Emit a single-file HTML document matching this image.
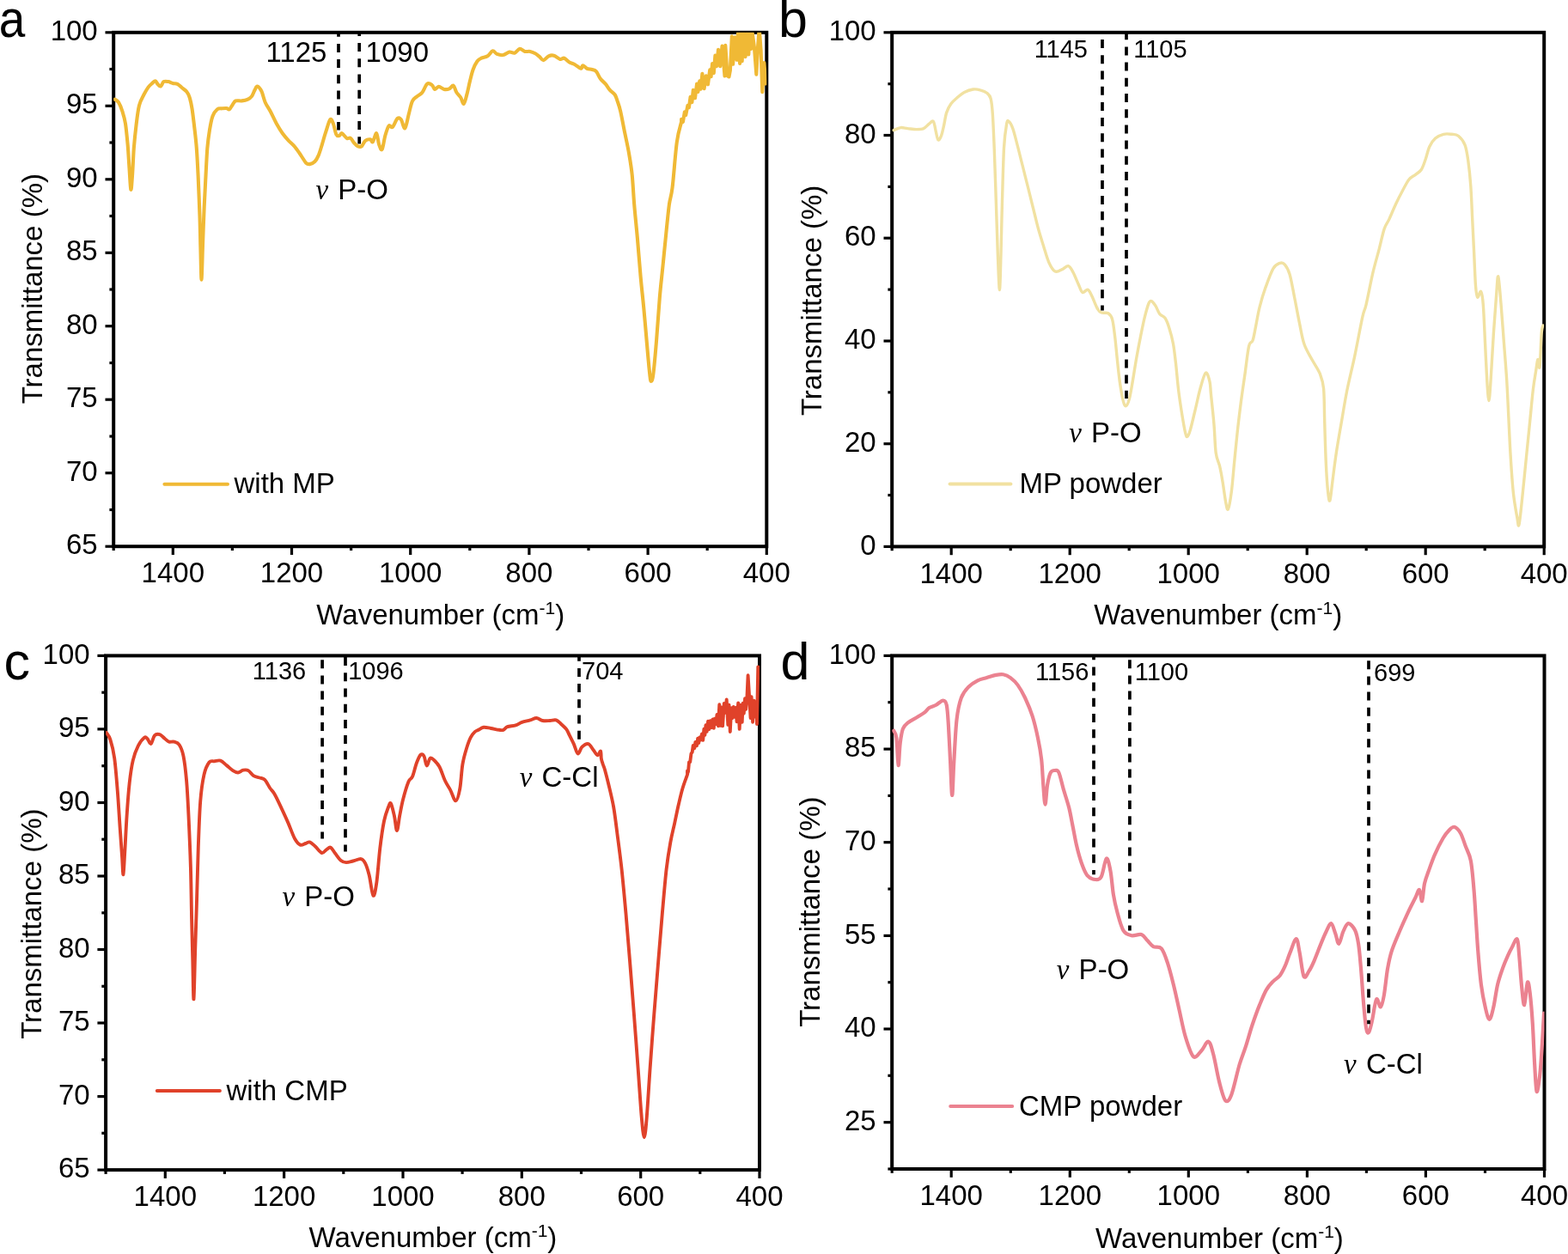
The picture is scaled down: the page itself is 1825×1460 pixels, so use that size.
<!DOCTYPE html>
<html><head><meta charset="utf-8"><title>FTIR spectra</title>
<style>html,body{margin:0;padding:0;background:#fff;width:1825px;height:1460px;overflow:hidden}svg{display:block}</style>
</head><body>
<svg width="1825" height="1460" viewBox="0 0 1825 1460" font-family="Liberation Sans, Arial, sans-serif" font-size="33" fill="#000">
<defs><clipPath id="ca"><rect x="132.2" y="37.8" width="760.1" height="598.4"/></clipPath><clipPath id="cb"><rect x="1038.2" y="37.8" width="759" height="598.6"/></clipPath><clipPath id="cc"><rect x="123.1" y="763.4" width="760.9" height="598.7"/></clipPath><clipPath id="cd"><rect x="1038.2" y="763.4" width="759.3" height="597.6"/></clipPath></defs>
<rect width="1825" height="1460" fill="#fff"/>
<rect x="132.2" y="37.8" width="760.1" height="598.4" fill="none" stroke="#000" stroke-width="4.0"/>
<line x1="122.5" y1="636.2" x2="132.2" y2="636.2" stroke="#000" stroke-width="3.2"/>
<text x="113.7" y="645.3" text-anchor="end">65</text>
<line x1="127.4" y1="593.5" x2="132.2" y2="593.5" stroke="#000" stroke-width="3.2"/>
<line x1="122.5" y1="550.7" x2="132.2" y2="550.7" stroke="#000" stroke-width="3.2"/>
<text x="113.7" y="559.8" text-anchor="end">70</text>
<line x1="127.4" y1="508" x2="132.2" y2="508" stroke="#000" stroke-width="3.2"/>
<line x1="122.5" y1="465.2" x2="132.2" y2="465.2" stroke="#000" stroke-width="3.2"/>
<text x="113.7" y="474.3" text-anchor="end">75</text>
<line x1="127.4" y1="422.5" x2="132.2" y2="422.5" stroke="#000" stroke-width="3.2"/>
<line x1="122.5" y1="379.7" x2="132.2" y2="379.7" stroke="#000" stroke-width="3.2"/>
<text x="113.7" y="388.8" text-anchor="end">80</text>
<line x1="127.4" y1="337" x2="132.2" y2="337" stroke="#000" stroke-width="3.2"/>
<line x1="122.5" y1="294.3" x2="132.2" y2="294.3" stroke="#000" stroke-width="3.2"/>
<text x="113.7" y="303.4" text-anchor="end">85</text>
<line x1="127.4" y1="251.5" x2="132.2" y2="251.5" stroke="#000" stroke-width="3.2"/>
<line x1="122.5" y1="208.8" x2="132.2" y2="208.8" stroke="#000" stroke-width="3.2"/>
<text x="113.7" y="217.9" text-anchor="end">90</text>
<line x1="127.4" y1="166" x2="132.2" y2="166" stroke="#000" stroke-width="3.2"/>
<line x1="122.5" y1="123.3" x2="132.2" y2="123.3" stroke="#000" stroke-width="3.2"/>
<text x="113.7" y="132.4" text-anchor="end">95</text>
<line x1="127.4" y1="80.5" x2="132.2" y2="80.5" stroke="#000" stroke-width="3.2"/>
<line x1="122.5" y1="37.8" x2="132.2" y2="37.8" stroke="#000" stroke-width="3.2"/>
<text x="113.7" y="46.9" text-anchor="end">100</text>
<line x1="132.2" y1="636.2" x2="132.2" y2="641" stroke="#000" stroke-width="3.2"/>
<line x1="201.3" y1="636.2" x2="201.3" y2="646" stroke="#000" stroke-width="3.2"/>
<text x="201.3" y="678.4" text-anchor="middle">1400</text>
<line x1="270.4" y1="636.2" x2="270.4" y2="641" stroke="#000" stroke-width="3.2"/>
<line x1="339.5" y1="636.2" x2="339.5" y2="646" stroke="#000" stroke-width="3.2"/>
<text x="339.5" y="678.4" text-anchor="middle">1200</text>
<line x1="408.6" y1="636.2" x2="408.6" y2="641" stroke="#000" stroke-width="3.2"/>
<line x1="477.7" y1="636.2" x2="477.7" y2="646" stroke="#000" stroke-width="3.2"/>
<text x="477.7" y="678.4" text-anchor="middle">1000</text>
<line x1="546.8" y1="636.2" x2="546.8" y2="641" stroke="#000" stroke-width="3.2"/>
<line x1="615.9" y1="636.2" x2="615.9" y2="646" stroke="#000" stroke-width="3.2"/>
<text x="615.9" y="678.4" text-anchor="middle">800</text>
<line x1="685" y1="636.2" x2="685" y2="641" stroke="#000" stroke-width="3.2"/>
<line x1="754.1" y1="636.2" x2="754.1" y2="646" stroke="#000" stroke-width="3.2"/>
<text x="754.1" y="678.4" text-anchor="middle">600</text>
<line x1="823.2" y1="636.2" x2="823.2" y2="641" stroke="#000" stroke-width="3.2"/>
<line x1="892.3" y1="636.2" x2="892.3" y2="646" stroke="#000" stroke-width="3.2"/>
<text x="892.3" y="678.4" text-anchor="middle">400</text>
<rect x="1038.2" y="37.8" width="759" height="598.6" fill="none" stroke="#000" stroke-width="4.0"/>
<line x1="1028.5" y1="636.4" x2="1038.2" y2="636.4" stroke="#000" stroke-width="3.2"/>
<text x="1019.7" y="645.5" text-anchor="end">0</text>
<line x1="1033.4" y1="576.5" x2="1038.2" y2="576.5" stroke="#000" stroke-width="3.2"/>
<line x1="1028.5" y1="516.7" x2="1038.2" y2="516.7" stroke="#000" stroke-width="3.2"/>
<text x="1019.7" y="525.8" text-anchor="end">20</text>
<line x1="1033.4" y1="456.8" x2="1038.2" y2="456.8" stroke="#000" stroke-width="3.2"/>
<line x1="1028.5" y1="397" x2="1038.2" y2="397" stroke="#000" stroke-width="3.2"/>
<text x="1019.7" y="406.1" text-anchor="end">40</text>
<line x1="1033.4" y1="337.1" x2="1038.2" y2="337.1" stroke="#000" stroke-width="3.2"/>
<line x1="1028.5" y1="277.2" x2="1038.2" y2="277.2" stroke="#000" stroke-width="3.2"/>
<text x="1019.7" y="286.3" text-anchor="end">60</text>
<line x1="1033.4" y1="217.4" x2="1038.2" y2="217.4" stroke="#000" stroke-width="3.2"/>
<line x1="1028.5" y1="157.5" x2="1038.2" y2="157.5" stroke="#000" stroke-width="3.2"/>
<text x="1019.7" y="166.6" text-anchor="end">80</text>
<line x1="1033.4" y1="97.7" x2="1038.2" y2="97.7" stroke="#000" stroke-width="3.2"/>
<line x1="1028.5" y1="37.8" x2="1038.2" y2="37.8" stroke="#000" stroke-width="3.2"/>
<text x="1019.7" y="46.9" text-anchor="end">100</text>
<line x1="1038.2" y1="636.4" x2="1038.2" y2="641.2" stroke="#000" stroke-width="3.2"/>
<line x1="1107.2" y1="636.4" x2="1107.2" y2="646.2" stroke="#000" stroke-width="3.2"/>
<text x="1107.2" y="678.6" text-anchor="middle">1400</text>
<line x1="1176.2" y1="636.4" x2="1176.2" y2="641.2" stroke="#000" stroke-width="3.2"/>
<line x1="1245.2" y1="636.4" x2="1245.2" y2="646.2" stroke="#000" stroke-width="3.2"/>
<text x="1245.2" y="678.6" text-anchor="middle">1200</text>
<line x1="1314.2" y1="636.4" x2="1314.2" y2="641.2" stroke="#000" stroke-width="3.2"/>
<line x1="1383.2" y1="636.4" x2="1383.2" y2="646.2" stroke="#000" stroke-width="3.2"/>
<text x="1383.2" y="678.6" text-anchor="middle">1000</text>
<line x1="1452.2" y1="636.4" x2="1452.2" y2="641.2" stroke="#000" stroke-width="3.2"/>
<line x1="1521.2" y1="636.4" x2="1521.2" y2="646.2" stroke="#000" stroke-width="3.2"/>
<text x="1521.2" y="678.6" text-anchor="middle">800</text>
<line x1="1590.2" y1="636.4" x2="1590.2" y2="641.2" stroke="#000" stroke-width="3.2"/>
<line x1="1659.2" y1="636.4" x2="1659.2" y2="646.2" stroke="#000" stroke-width="3.2"/>
<text x="1659.2" y="678.6" text-anchor="middle">600</text>
<line x1="1728.2" y1="636.4" x2="1728.2" y2="641.2" stroke="#000" stroke-width="3.2"/>
<line x1="1797.2" y1="636.4" x2="1797.2" y2="646.2" stroke="#000" stroke-width="3.2"/>
<text x="1797.2" y="678.6" text-anchor="middle">400</text>
<rect x="123.1" y="763.4" width="760.9" height="598.7" fill="none" stroke="#000" stroke-width="4.0"/>
<line x1="113.4" y1="1362.1" x2="123.1" y2="1362.1" stroke="#000" stroke-width="3.2"/>
<text x="104.6" y="1371.2" text-anchor="end">65</text>
<line x1="118.3" y1="1319.3" x2="123.1" y2="1319.3" stroke="#000" stroke-width="3.2"/>
<line x1="113.4" y1="1276.6" x2="123.1" y2="1276.6" stroke="#000" stroke-width="3.2"/>
<text x="104.6" y="1285.7" text-anchor="end">70</text>
<line x1="118.3" y1="1233.8" x2="123.1" y2="1233.8" stroke="#000" stroke-width="3.2"/>
<line x1="113.4" y1="1191" x2="123.1" y2="1191" stroke="#000" stroke-width="3.2"/>
<text x="104.6" y="1200.1" text-anchor="end">75</text>
<line x1="118.3" y1="1148.3" x2="123.1" y2="1148.3" stroke="#000" stroke-width="3.2"/>
<line x1="113.4" y1="1105.5" x2="123.1" y2="1105.5" stroke="#000" stroke-width="3.2"/>
<text x="104.6" y="1114.6" text-anchor="end">80</text>
<line x1="118.3" y1="1062.8" x2="123.1" y2="1062.8" stroke="#000" stroke-width="3.2"/>
<line x1="113.4" y1="1020" x2="123.1" y2="1020" stroke="#000" stroke-width="3.2"/>
<text x="104.6" y="1029.1" text-anchor="end">85</text>
<line x1="118.3" y1="977.2" x2="123.1" y2="977.2" stroke="#000" stroke-width="3.2"/>
<line x1="113.4" y1="934.5" x2="123.1" y2="934.5" stroke="#000" stroke-width="3.2"/>
<text x="104.6" y="943.6" text-anchor="end">90</text>
<line x1="118.3" y1="891.7" x2="123.1" y2="891.7" stroke="#000" stroke-width="3.2"/>
<line x1="113.4" y1="848.9" x2="123.1" y2="848.9" stroke="#000" stroke-width="3.2"/>
<text x="104.6" y="858" text-anchor="end">95</text>
<line x1="118.3" y1="806.2" x2="123.1" y2="806.2" stroke="#000" stroke-width="3.2"/>
<line x1="113.4" y1="763.4" x2="123.1" y2="763.4" stroke="#000" stroke-width="3.2"/>
<text x="104.6" y="772.5" text-anchor="end">100</text>
<line x1="123.1" y1="1362.1" x2="123.1" y2="1366.9" stroke="#000" stroke-width="3.2"/>
<line x1="192.3" y1="1362.1" x2="192.3" y2="1371.9" stroke="#000" stroke-width="3.2"/>
<text x="192.3" y="1404.3" text-anchor="middle">1400</text>
<line x1="261.4" y1="1362.1" x2="261.4" y2="1366.9" stroke="#000" stroke-width="3.2"/>
<line x1="330.6" y1="1362.1" x2="330.6" y2="1371.9" stroke="#000" stroke-width="3.2"/>
<text x="330.6" y="1404.3" text-anchor="middle">1200</text>
<line x1="399.8" y1="1362.1" x2="399.8" y2="1366.9" stroke="#000" stroke-width="3.2"/>
<line x1="469" y1="1362.1" x2="469" y2="1371.9" stroke="#000" stroke-width="3.2"/>
<text x="469" y="1404.3" text-anchor="middle">1000</text>
<line x1="538.1" y1="1362.1" x2="538.1" y2="1366.9" stroke="#000" stroke-width="3.2"/>
<line x1="607.3" y1="1362.1" x2="607.3" y2="1371.9" stroke="#000" stroke-width="3.2"/>
<text x="607.3" y="1404.3" text-anchor="middle">800</text>
<line x1="676.5" y1="1362.1" x2="676.5" y2="1366.9" stroke="#000" stroke-width="3.2"/>
<line x1="745.7" y1="1362.1" x2="745.7" y2="1371.9" stroke="#000" stroke-width="3.2"/>
<text x="745.7" y="1404.3" text-anchor="middle">600</text>
<line x1="814.8" y1="1362.1" x2="814.8" y2="1366.9" stroke="#000" stroke-width="3.2"/>
<line x1="884" y1="1362.1" x2="884" y2="1371.9" stroke="#000" stroke-width="3.2"/>
<text x="884" y="1404.3" text-anchor="middle">400</text>
<rect x="1038.2" y="763.4" width="759.3" height="597.6" fill="none" stroke="#000" stroke-width="4.0"/>
<line x1="1033.4" y1="1361" x2="1038.2" y2="1361" stroke="#000" stroke-width="3.2"/>
<line x1="1028.5" y1="1306.7" x2="1038.2" y2="1306.7" stroke="#000" stroke-width="3.2"/>
<text x="1019.7" y="1315.8" text-anchor="end">25</text>
<line x1="1033.4" y1="1252.3" x2="1038.2" y2="1252.3" stroke="#000" stroke-width="3.2"/>
<line x1="1028.5" y1="1198" x2="1038.2" y2="1198" stroke="#000" stroke-width="3.2"/>
<text x="1019.7" y="1207.1" text-anchor="end">40</text>
<line x1="1033.4" y1="1143.7" x2="1038.2" y2="1143.7" stroke="#000" stroke-width="3.2"/>
<line x1="1028.5" y1="1089.4" x2="1038.2" y2="1089.4" stroke="#000" stroke-width="3.2"/>
<text x="1019.7" y="1098.5" text-anchor="end">55</text>
<line x1="1033.4" y1="1035" x2="1038.2" y2="1035" stroke="#000" stroke-width="3.2"/>
<line x1="1028.5" y1="980.7" x2="1038.2" y2="980.7" stroke="#000" stroke-width="3.2"/>
<text x="1019.7" y="989.8" text-anchor="end">70</text>
<line x1="1033.4" y1="926.4" x2="1038.2" y2="926.4" stroke="#000" stroke-width="3.2"/>
<line x1="1028.5" y1="872.1" x2="1038.2" y2="872.1" stroke="#000" stroke-width="3.2"/>
<text x="1019.7" y="881.2" text-anchor="end">85</text>
<line x1="1033.4" y1="817.7" x2="1038.2" y2="817.7" stroke="#000" stroke-width="3.2"/>
<line x1="1028.5" y1="763.4" x2="1038.2" y2="763.4" stroke="#000" stroke-width="3.2"/>
<text x="1019.7" y="772.5" text-anchor="end">100</text>
<line x1="1038.2" y1="1361" x2="1038.2" y2="1365.8" stroke="#000" stroke-width="3.2"/>
<line x1="1107.2" y1="1361" x2="1107.2" y2="1370.8" stroke="#000" stroke-width="3.2"/>
<text x="1107.2" y="1403.2" text-anchor="middle">1400</text>
<line x1="1176.3" y1="1361" x2="1176.3" y2="1365.8" stroke="#000" stroke-width="3.2"/>
<line x1="1245.3" y1="1361" x2="1245.3" y2="1370.8" stroke="#000" stroke-width="3.2"/>
<text x="1245.3" y="1403.2" text-anchor="middle">1200</text>
<line x1="1314.3" y1="1361" x2="1314.3" y2="1365.8" stroke="#000" stroke-width="3.2"/>
<line x1="1383.3" y1="1361" x2="1383.3" y2="1370.8" stroke="#000" stroke-width="3.2"/>
<text x="1383.3" y="1403.2" text-anchor="middle">1000</text>
<line x1="1452.4" y1="1361" x2="1452.4" y2="1365.8" stroke="#000" stroke-width="3.2"/>
<line x1="1521.4" y1="1361" x2="1521.4" y2="1370.8" stroke="#000" stroke-width="3.2"/>
<text x="1521.4" y="1403.2" text-anchor="middle">800</text>
<line x1="1590.4" y1="1361" x2="1590.4" y2="1365.8" stroke="#000" stroke-width="3.2"/>
<line x1="1659.4" y1="1361" x2="1659.4" y2="1370.8" stroke="#000" stroke-width="3.2"/>
<text x="1659.4" y="1403.2" text-anchor="middle">600</text>
<line x1="1728.5" y1="1361" x2="1728.5" y2="1365.8" stroke="#000" stroke-width="3.2"/>
<line x1="1797.5" y1="1361" x2="1797.5" y2="1370.8" stroke="#000" stroke-width="3.2"/>
<text x="1797.5" y="1403.2" text-anchor="middle">400</text>
<path clip-path="url(#ca)" d="M133.6,115.6 C134.3,116.2 136.5,116.8 138,119.2 C139.5,121.6 141.2,125.8 142.5,129.9 C143.8,134 145,137.5 146,144 C147,150.5 147.9,160.4 148.7,169 C149.4,177.6 149.9,187.2 150.5,195.8 C151.1,204.4 151.7,219.2 152.3,220.7 C152.9,222.2 153.4,212.7 154,204.7 C154.6,196.7 155.1,182.4 155.8,172.6 C156.6,162.8 157.5,154.2 158.5,145.9 C159.5,137.6 160.5,128.6 162,122.7 C163.5,116.8 165.6,113.8 167.4,110.3 C169.2,106.8 171.1,103.6 172.7,101.4 C174.3,99.2 175.8,98.1 177.2,96.9 C178.5,95.7 179.8,94.1 180.8,94.2 C181.8,94.3 182.4,96.8 183.4,97.8 C184.4,98.8 185.8,101 187,100.5 C188.2,100 189.1,96 190.6,95.1 C192.1,94.2 194.1,94.8 195.9,95.1 C197.7,95.4 199.4,96.5 201.2,96.9 C203,97.4 204.8,96.9 206.6,97.8 C208.4,98.7 210.1,100.8 211.9,102.3 C213.7,103.8 215.8,104.8 217.3,106.7 C218.8,108.6 219.8,110.5 220.8,113.8 C221.8,117.1 222.6,120.7 223.5,126.3 C224.4,131.9 225.3,140 226.2,147.7 C227.1,155.4 228.1,163.1 228.8,172.6 C229.5,182.1 230,191.9 230.6,204.7 C231.2,217.5 231.9,235.8 232.4,249.2 C232.9,262.6 233,272 233.3,284.8 C233.7,297.6 234.1,325.8 234.5,325.8 C234.9,325.8 235.5,299.1 236,284.8 C236.5,270.6 237.1,253.7 237.7,240.3 C238.3,227 238.9,216 239.5,204.7 C240.1,193.4 240.6,181.5 241.3,172.6 C242.1,163.7 243,157.4 244,151.2 C245,145 246,139.2 247.5,135.2 C249,131.2 251.1,128.7 252.9,127.2 C254.7,125.7 256.4,126.5 258.2,126.3 C260,126.1 262.1,125.8 263.6,126 C265.1,126.2 265.9,127.9 267.1,127.2 C268.3,126.5 269.5,123.5 270.7,121.9 C271.9,120.3 272.5,118.2 274.3,117.4 C276.1,116.7 279,117.7 281.4,117.4 C283.8,117.1 286.6,116.5 288.5,115.6 C290.4,114.7 291.7,113.9 293,112.1 C294.3,110.3 295.4,106.8 296.5,104.9 C297.6,103 298.1,100.3 299.4,100.5 C300.7,100.7 302.8,103.1 304.4,106.2 C305.9,109.3 307,115.3 308.7,119.2 C310.4,123.1 312.3,125.2 314.5,129.3 C316.7,133.4 319.3,139.4 321.7,143.7 C324.1,148 326.4,151.8 328.8,155.2 C331.2,158.5 333.6,161.2 336,163.8 C338.4,166.4 340.8,168.1 343.2,171 C345.6,173.9 348.2,178 350.4,181.1 C352.6,184.2 354.5,188 356.2,189.7 C357.9,191.4 358.8,191.3 360.5,191.1 C362.2,190.9 364.5,190 366.2,188.3 C367.9,186.6 369.2,184.5 370.6,181.1 C372.1,177.7 373.5,172.7 374.9,168.1 C376.3,163.5 377.6,158.5 379.2,153.7 C380.8,148.9 382.8,141 384.2,139.3 C385.6,137.6 386.6,140.8 387.8,143.7 C389,146.6 390.2,154.2 391.4,156.6 C392.6,159 393.9,158.2 395,158 C396.1,157.8 396.4,154.7 397.9,155.2 C399.3,155.7 402,159.9 403.7,160.9 C405.4,161.9 406.6,159.9 408,160.9 C409.4,161.9 410.9,165.1 412.3,166.7 C413.7,168.3 415.2,169.7 416.6,170.3 C418,170.9 419.5,171.4 420.9,170.3 C422.3,169.2 423.5,165.1 425.2,163.8 C426.9,162.5 429.6,162.2 431,162.4 C432.4,162.6 432.7,166.4 433.9,165.2 C435.1,164 437,154.7 438.2,155.2 C439.4,155.7 440,165 441.1,168.1 C442.2,171.2 443.5,175.6 444.7,173.9 C445.9,172.2 447,162.6 448.3,158 C449.6,153.4 451.2,148.2 452.6,146.5 C454,144.8 455.2,149.4 456.9,148 C458.6,146.6 460.9,139.3 462.6,137.9 C464.3,136.5 465.4,137.4 466.9,139.3 C468.3,141.2 469.9,150.4 471.3,149.4 C472.8,148.4 474.2,138.9 475.6,133.6 C477,128.3 478.2,121.4 479.9,117.8 C481.6,114.2 483.8,113.7 485.7,112 C487.6,110.3 489.5,110.1 491.4,107.7 C493.3,105.3 495.3,99 497.2,97.6 C499.1,96.2 501.4,98 502.9,99.1 C504.4,100.1 504.7,103.6 506,103.9 C507.3,104.2 509,100.9 510.8,100.9 C512.6,100.9 514.9,103.5 516.9,103.9 C518.9,104.3 521.1,104 522.9,103.3 C524.7,102.6 526.3,99 527.7,99.7 C529.1,100.4 529.9,105.2 531.3,107.5 C532.7,109.8 534.8,111.3 536.2,113.5 C537.6,115.7 538.6,121.4 539.8,120.8 C541,120.2 542.2,114.3 543.4,109.9 C544.6,105.5 545.8,99.1 547,94.3 C548.2,89.5 549.2,84.8 550.6,81 C552,77.2 553.9,73.5 555.5,71.3 C557.1,69.1 558.3,68.7 560.3,67.7 C562.3,66.7 565.3,66.7 567.5,65.3 C569.7,63.9 571.7,59.7 573.5,59.3 C575.3,58.9 576.4,62.1 578.4,62.9 C580.4,63.7 583.2,64.5 585.6,64.1 C588,63.7 590.6,60.9 592.8,60.5 C595,60.1 596.9,62.3 598.9,61.7 C600.9,61.1 602.9,57.2 604.9,56.9 C606.9,56.6 608.9,59.4 610.9,59.9 C612.9,60.4 614.9,59.5 616.9,59.9 C618.9,60.3 621.2,61.3 623,62.3 C624.8,63.3 626.2,64.6 627.8,65.9 C629.4,67.2 630.8,70.2 632.6,70.1 C634.4,70 636.6,66.2 638.6,65.3 C640.6,64.4 642.5,64.1 644.7,64.7 C646.9,65.3 649.9,68.4 651.9,68.9 C653.9,69.4 654.9,67.1 656.7,67.7 C658.5,68.3 660.7,71.3 662.7,72.5 C664.7,73.7 666.6,73.8 668.8,75 C671,76.2 674.4,79.6 676,79.8 C677.6,80 677.2,76.2 678.4,76.2 C679.6,76.2 681.4,79 683.2,79.8 C685,80.6 687.5,80.4 689.3,81 C691.1,81.6 692.5,81.6 694.1,83.4 C695.7,85.2 697.1,89.4 698.9,91.8 C700.7,94.2 703.1,95.7 704.9,97.9 C706.7,100.1 708.1,102.8 709.9,104.9 C711.7,107 714.4,108.4 715.8,110.5 C717.2,112.6 717.4,114.1 718.5,117.3 C719.6,120.5 720.8,123.4 722.2,129.6 C723.6,135.8 725.5,146 727.1,154.2 C728.8,162.4 730.7,170.7 732.1,178.9 C733.5,187.1 734.7,193.7 735.7,203.6 C736.7,213.5 737.2,225.8 738.2,238.1 C739.2,250.4 740.7,263.5 741.9,277.5 C743.1,291.5 744.4,308.3 745.6,321.9 C746.8,335.5 748.1,345.8 749.3,358.9 C750.5,372 751.9,388.1 753,400.8 C754.1,413.5 755.4,428.1 756.2,435.3 C757,442.5 757.2,443.9 757.9,443.9 C758.6,443.9 759.4,443.3 760.4,435.3 C761.4,427.3 762.9,410.7 764.1,395.9 C765.3,381.1 766.6,360.9 767.8,346.5 C769,332.1 770.3,321.9 771.5,309.6 C772.7,297.3 774,284.5 775.2,272.6 C776.4,260.7 777.7,247.2 778.9,238.1 C780.1,229 781.1,230.4 782.6,218.3 C784.1,206.2 786,178.2 787.8,165.5 C789.5,152.8 792.2,145.9 793.1,142 L793.1,138.8 L794.9,142 L796.9,130.2 L798.2,134 L800.4,122.8 L801.9,125.2 L803.6,112.8 L805.4,119.1 L806.8,104.8 L809,114.2 L811.1,97.6 L812.4,106.9 L814.3,94.3 L815.6,103.8 L817.4,85.8 L819.6,103.2 L821.8,88.4 L824,98.3 L826.2,81.4 L827.6,89.3 L829.1,74 L830.8,85.2 L832.4,64.6 L834.1,77.1 L836,57.7 L838.2,77.2 L840.5,53.6 L843.5,88.5 L844.3,52.9 L846.6,88.2 L848.5,89.4 L849.9,81.8 L851.8,42.4 L853.1,74.8 L855.5,43.4 L857.6,69.8 L859,38.6 L861.1,74 L862.4,34.2 L863.7,71.2 L865.3,31.2 L867.6,66.1 L870,37.2 L871.3,63.5 L872.6,37.5 L874.3,56.9 L875.7,38.3 L877.9,54.7 L880.3,86.7 L881.9,56.5 L883.7,32.5 L885.6,58.3 L887.3,107.2 L889.4,73 L891.2,97.4" fill="none" stroke="#F0B935" stroke-width="4.1" stroke-linejoin="round" stroke-linecap="round"/>
<path clip-path="url(#cb)" d="M1040.1,151.6 C1041.5,151.1 1045.6,148.9 1048.3,148.6 C1051,148.3 1053.4,149.3 1056.5,149.6 C1059.6,149.9 1063.7,150.6 1066.8,150.6 C1069.9,150.6 1072.6,150.6 1075,149.6 C1077.4,148.6 1079.3,145.8 1081.2,144.4 C1083.1,143 1084.9,139.9 1086.3,141.4 C1087.7,142.9 1088.5,150.1 1089.4,153.7 C1090.3,157.3 1090.9,162.2 1091.9,162.9 C1092.9,163.6 1094.5,160.7 1095.6,157.8 C1096.7,154.9 1097.7,149.9 1098.7,145.5 C1099.7,141.1 1100.3,135.2 1101.7,131.1 C1103.1,127 1104.8,123.7 1106.9,120.8 C1109,117.9 1111.5,115.8 1114.1,113.6 C1116.7,111.4 1119.2,109.1 1122.3,107.5 C1125.4,105.9 1129.5,104.5 1132.6,104 C1135.7,103.5 1138.1,104 1140.8,104.8 C1143.5,105.5 1147,106.8 1149,108.5 C1151,110.2 1152.1,110.9 1153.1,114.7 C1154.1,118.5 1154.5,121.5 1155.2,131.1 C1155.9,140.7 1156.5,155.1 1157.2,172.2 C1157.9,189.3 1158.6,213.2 1159.3,233.8 C1160,254.4 1160.6,278.2 1161.3,295.5 C1162,312.8 1162.8,337.6 1163.4,337.6 C1164,337.6 1164.5,312.8 1165,295.5 C1165.5,278.2 1165.9,254.4 1166.5,233.8 C1167.1,213.2 1167.7,187.1 1168.5,172.2 C1169.3,157.3 1170.7,149.5 1171.6,144.4 C1172.5,139.3 1172.9,140.5 1174.1,141.4 C1175.3,142.3 1177.2,145.2 1178.8,149.6 C1180.4,154 1182,160.9 1183.9,168.1 C1185.8,175.3 1188,184.5 1190.1,192.7 C1192.2,200.9 1194.2,209.2 1196.3,217.4 C1198.3,225.6 1200.4,233.8 1202.4,242 C1204.5,250.2 1206.5,259.2 1208.6,266.7 C1210.7,274.2 1212.8,280.7 1214.8,287.2 C1216.8,293.7 1218.7,300.9 1220.9,305.7 C1223.1,310.5 1225.5,314.7 1228.1,316 C1230.7,317.3 1233.8,314.7 1236.3,313.6 C1238.8,312.6 1241.3,309.2 1243.4,309.7 C1245.5,310.2 1246.9,313.2 1248.9,316.8 C1250.9,320.4 1253.4,327.1 1255.2,331 C1257,334.9 1258.1,339.3 1259.9,340.4 C1261.7,341.4 1264.4,336.5 1266.2,337.3 C1268,338.1 1269.2,341.4 1271,345.1 C1272.8,348.8 1275.5,356.2 1277.3,359.3 C1279.1,362.4 1279.9,363.1 1282,364 C1284.1,364.9 1287.8,363.5 1289.9,364.8 C1292,366.1 1293.3,367.3 1294.6,371.9 C1295.9,376.5 1296.8,385 1297.7,392.4 C1298.6,399.8 1299.2,407.3 1300.1,416 C1301,424.7 1302.1,436 1303.3,444.4 C1304.5,452.8 1306,461.7 1307.2,466.4 C1308.4,471.1 1309.1,472.9 1310.3,472.7 C1311.5,472.4 1313,469.6 1314.3,464.9 C1315.6,460.2 1316.8,452.5 1318.2,444.4 C1319.6,436.2 1321.3,424.9 1322.9,416 C1324.5,407.1 1326.1,398.7 1327.7,390.8 C1329.3,382.9 1330.8,375.1 1332.4,368.8 C1334,362.5 1335.8,356 1337.1,353 C1338.4,350 1339,350.1 1340.3,350.6 C1341.6,351.1 1343.4,353.7 1345,356.2 C1346.6,358.7 1347.9,363.2 1349.7,365.6 C1351.5,368 1354.2,367.7 1356,370.3 C1357.8,372.9 1359.1,376.4 1360.7,381.4 C1362.3,386.4 1364.2,393.2 1365.5,400.3 C1366.8,407.4 1367.5,414.7 1368.6,423.9 C1369.6,433.1 1370.6,445.7 1371.8,455.4 C1373,465.1 1374.4,474.1 1375.7,482.2 C1377,490.3 1378.7,499.9 1379.7,504.2 C1380.8,508.5 1381.1,508.7 1382,508.2 C1382.9,507.7 1383.8,506 1385.2,501.1 C1386.7,496.2 1388.7,487.1 1390.7,479 C1392.7,470.9 1394.9,459.8 1397,452.3 C1399.1,444.8 1401.5,435.4 1403.3,434.1 C1405.1,432.8 1407,440.2 1408,444.4 C1409,448.6 1408.7,451.3 1409.5,459.5 C1410.3,467.7 1412,482.1 1412.9,493.4 C1413.9,504.7 1414.1,519 1415.2,527.3 C1416.3,535.6 1418.4,537.6 1419.7,543.2 C1421,548.9 1422,554.4 1423.1,561.2 C1424.2,568 1425.5,578.6 1426.5,583.9 C1427.5,589.2 1428.3,594.8 1429.4,592.9 C1430.5,591 1432.1,581.5 1433.3,572.5 C1434.5,563.5 1435.5,549.9 1436.6,538.6 C1437.7,527.3 1438.7,516.8 1440,504.7 C1441.3,492.6 1443.1,478 1444.6,466.3 C1446.1,454.6 1447.6,445.2 1449.1,434.7 C1450.6,424.1 1452.1,409.4 1453.6,403 C1455.1,396.6 1456.8,400 1458.1,396.2 C1459.4,392.4 1460.2,386.8 1461.5,380.4 C1462.8,374 1464.1,365.3 1466,357.8 C1467.9,350.3 1470.1,342.7 1472.8,335.2 C1475.5,327.7 1479.1,317.4 1481.9,312.6 C1484.7,307.8 1487.5,307.1 1489.8,306.3 C1492,305.6 1493.5,305.9 1495.4,308.1 C1497.3,310.3 1499.2,313 1501.1,319.4 C1503,325.8 1504.8,337.1 1506.7,346.5 C1508.6,355.9 1510.5,366.8 1512.4,375.9 C1514.3,384.9 1515.5,393.6 1518,400.8 C1520.5,408 1524.1,413.2 1527.1,418.8 C1530.1,424.4 1533.8,429.1 1536.1,434.7 C1538.3,440.3 1539.6,442.9 1540.6,452.7 C1541.5,462.5 1541.3,479.1 1541.8,493.4 C1542.2,507.7 1542.7,525.4 1543.3,538.6 C1543.9,551.8 1544.8,565.1 1545.6,572.5 C1546.4,579.9 1547,584.6 1547.9,582.7 C1548.8,580.8 1549.6,570.4 1550.8,561.2 C1552,552 1553.6,538.6 1555.3,527.3 C1557,516 1558.9,505.4 1561,493.4 C1563.1,481.3 1565.1,468.2 1567.7,455 C1570.3,441.8 1573.8,428.6 1576.8,414.3 C1579.8,400 1583.6,379 1585.8,369.1 C1588,359.2 1588,363.2 1590,354.8 C1592,346.4 1595.2,329.3 1597.7,318.4 C1600.2,307.5 1603.1,298.2 1605.3,289.6 C1607.5,281 1609.2,272.4 1611.1,266.6 C1613,260.9 1614.7,259.9 1616.9,255.1 C1619.1,250.3 1622,243.2 1624.5,237.8 C1627,232.4 1629.6,227.3 1632.2,222.5 C1634.8,217.7 1637.4,212.2 1639.9,209 C1642.5,205.8 1645.1,205.2 1647.5,203.3 C1649.9,201.4 1652.4,200.4 1654.3,197.5 C1656.2,194.6 1657.4,190.5 1659,186 C1660.6,181.5 1661.9,174.8 1663.8,170.7 C1665.7,166.5 1667.9,163.5 1670.6,161.1 C1673.3,158.7 1676.9,157.1 1680.1,156.3 C1683.3,155.5 1686.8,156 1689.7,156.3 C1692.6,156.6 1694.8,156.1 1697.4,158.2 C1700,160.3 1703.2,163.8 1705.1,168.8 C1707,173.8 1707.8,180 1708.9,188 C1710,196 1711,205.5 1711.8,216.7 C1712.6,227.9 1713.1,242.3 1713.7,255.1 C1714.3,267.9 1715,280.4 1715.6,293.4 C1716.2,306.4 1716.8,324.1 1717.5,332.9 C1718.2,341.7 1718.7,344.9 1719.7,346 C1720.7,347.1 1722.6,338 1723.7,339.5 C1724.8,341 1725.5,344.9 1726.3,354.8 C1727.1,364.7 1727.8,384 1728.5,398.6 C1729.2,413.2 1730,431.2 1730.7,442.5 C1731.4,453.8 1732.2,466.6 1732.9,466.6 C1733.6,466.6 1734.2,455.6 1735.1,442.5 C1736,429.4 1737.3,404.1 1738.4,387.7 C1739.5,371.2 1740.7,354.8 1741.6,343.8 C1742.5,332.8 1742.9,320.1 1743.8,321.9 C1744.7,323.7 1746,342 1747.1,354.8 C1748.2,367.6 1749.3,384 1750.4,398.6 C1751.5,413.2 1752.8,427.9 1753.7,442.5 C1754.6,457.1 1755.2,471.7 1755.9,486.3 C1756.6,500.9 1757.2,515.5 1758.1,530.1 C1759,544.7 1760.1,561.9 1761.4,574 C1762.7,586.1 1764.7,596.3 1765.8,602.5 C1766.9,608.7 1767,614.1 1767.9,611.2 C1768.8,608.3 1769.9,596.6 1771.2,584.9 C1772.5,573.2 1774.1,555.7 1775.6,541.1 C1777.1,526.5 1778.5,511.9 1780,497.3 C1781.5,482.7 1783.1,464.4 1784.4,453.4 C1785.7,442.4 1786.8,437.3 1787.7,431.5 C1788.6,425.7 1789.2,419.1 1789.9,418.4 C1790.6,417.7 1791.4,432.2 1792.1,427.1 C1792.8,422 1793.5,395.7 1794.2,387.7 C1794.9,379.7 1795.7,380.4 1796,378.9" fill="none" stroke="#F1E1A1" stroke-width="3.4" stroke-linejoin="round" stroke-linecap="round"/>
<path clip-path="url(#cc)" d="M123.6,852.8 C124.4,854.2 126.8,856.2 128.4,861.2 C130,866.2 131.8,872.7 133.2,882.7 C134.6,892.7 135.7,907.5 136.8,921.1 C137.9,934.7 138.8,951.5 139.7,964.3 C140.6,977.1 141.5,988.8 142.1,997.8 C142.7,1006.8 143,1019 143.5,1018.2 C144,1017.4 144.5,1004.4 145.2,993 C145.9,981.6 146.7,963.5 147.6,949.9 C148.5,936.3 149.5,922.3 150.7,911.5 C151.9,900.7 153.1,892.3 154.8,885.1 C156.5,877.9 158.6,872.8 160.8,868.4 C163,864 166.2,860.2 168,858.8 C169.8,857.4 170.2,858.8 171.5,860 C172.8,861.2 174.2,866.6 175.6,866 C177,865.4 178.2,858.2 179.9,856.4 C181.6,854.6 183.9,854.6 185.9,855.2 C187.9,855.8 190.1,858.6 191.9,860 C193.7,861.4 194.9,863 196.7,863.6 C198.5,864.2 200.7,863 202.7,863.6 C204.7,864.2 206.9,864.4 208.7,867.2 C210.5,870 212.1,873.3 213.5,880.3 C214.9,887.3 216.1,897.5 217.1,909.1 C218.1,920.7 218.7,933.1 219.5,949.9 C220.3,966.7 221.3,989.8 221.9,1009.8 C222.5,1029.8 222.7,1051.7 223.1,1069.7 C223.5,1087.7 223.9,1102.1 224.3,1117.7 C224.7,1133.3 225,1165.3 225.5,1163.3 C226,1161.3 226.6,1125.3 227.2,1105.7 C227.8,1086.1 228.5,1065.8 229.1,1045.8 C229.7,1025.8 230.1,1004.6 230.8,985.8 C231.5,967 232.1,947.1 233.2,933.1 C234.3,919.1 235.8,909.5 237.5,901.9 C239.2,894.3 241.5,890.1 243.5,887.5 C245.5,884.9 247.3,886.6 249.5,886.3 C251.7,886 254.3,884.8 256.7,885.6 C259.1,886.4 261.4,889.2 263.8,891.1 C266.2,893 268.8,895.7 271,897.1 C273.2,898.5 275,899.6 277,899.5 C279,899.4 281,897.1 283,896.7 C285,896.3 287,896 289,897.1 C291,898.2 292.8,901.7 295,903.1 C297.2,904.5 300,904.7 302.2,905.5 C304.4,906.3 306.2,905.9 308.2,907.9 C310.2,909.9 312.3,914.7 314.2,917.5 C316.1,920.3 317.3,920.7 319.5,924.5 C321.7,928.3 324.7,934.8 327.3,940.3 C329.9,945.8 332.6,951.6 335.2,957.6 C337.8,963.6 340.7,972.2 343.1,976.5 C345.5,980.8 347.3,982.7 349.4,983.6 C351.5,984.5 353.9,982.5 355.7,982 C357.5,981.5 358.6,979.9 360.4,980.4 C362.2,980.9 364.3,983.1 366.7,985.2 C369.1,987.3 372.4,992.4 374.6,993 C376.8,993.6 378.4,990.1 380.1,989.1 C381.8,988.1 383.1,985.9 384.8,986.7 C386.5,987.5 388.3,991.3 390.3,993.8 C392.3,996.3 394.5,1000 396.6,1001.7 C398.7,1003.4 400.5,1004 402.9,1004.1 C405.3,1004.2 407.9,1003.2 410.8,1002.5 C413.7,1001.8 417.9,999.7 420.3,1000.1 C422.7,1000.5 423.4,1001.8 425,1004.9 C426.6,1008 428.1,1012.7 429.7,1019 C431.3,1025.3 432.9,1041.4 434.4,1042.7 C435.8,1044 437.1,1036.1 438.4,1026.9 C439.7,1017.7 440.9,999.3 442.3,987.5 C443.7,975.7 445.4,963.9 447,956 C448.6,948.1 450.5,943.7 451.8,940.3 C453.1,936.9 453.7,933.9 454.9,935.5 C456.1,937.1 457.7,944.5 458.9,949.7 C460.1,955 460.9,967 462,967 C463.1,967 464,955.7 465.2,949.7 C466.4,943.7 467.4,937.4 469.1,930.8 C470.8,924.2 473.6,914.8 475.4,910.3 C477.2,905.8 478.5,907.7 480.1,904 C481.7,900.3 483.3,892.5 484.9,888.3 C486.5,884.1 488.2,880.1 489.6,878.8 C491,877.5 492.3,878.3 493.5,880.4 C494.7,882.5 495.5,891 496.7,891.4 C497.9,891.8 499.2,883.8 500.6,882.8 C502,881.8 503.5,883.4 505.3,885.1 C507.1,886.8 509.5,889 511.6,893 C513.7,897 515.8,904.3 517.9,908.8 C520,913.3 522.1,915.9 524.2,919.8 C526.3,923.7 528.6,932.7 530.5,932.4 C532.4,932.1 534,925.3 535.3,918.2 C536.6,911.1 537.1,897.8 538.4,889.9 C539.7,882 541.5,876.2 543.1,871 C544.7,865.8 546.3,861.5 547.9,858.4 C549.5,855.2 551.1,853.5 552.6,852.1 C554.1,850.7 555.2,850.7 556.9,849.8 C558.6,848.9 560.5,847.1 562.9,846.8 C565.3,846.5 568.3,847.5 571.3,848 C574.3,848.5 578.6,849.5 581,849.8 C583.4,850.1 584.2,850.4 585.8,849.8 C587.4,849.2 588.2,847.1 590.6,846.2 C593,845.3 597.5,845.3 600.3,844.4 C603.1,843.5 604.7,841.8 607.5,840.8 C610.3,839.8 614.4,839.2 617.2,838.4 C620,837.6 622,835.9 624.4,836 C626.8,836.1 629,838.5 631.6,839 C634.2,839.5 637.5,839.1 640.1,839 C642.7,838.9 645.1,837.7 647.3,838.4 C649.5,839.1 651.3,841.4 653.3,843.2 C655.3,845 657.7,847 659.3,849.2 C660.9,851.4 661.6,853.6 663,856.4 C664.4,859.2 666.2,862.6 667.8,866.1 C669.4,869.6 671,876.9 672.6,877.5 C674.2,878.1 675.4,871.6 677.4,869.7 C679.4,867.8 682.5,865.5 684.7,866.1 C686.9,866.7 688.9,871.1 690.7,873.3 C692.5,875.5 694.1,879.1 695.5,879.3 C696.9,879.5 698.4,873.9 699.1,874.5 C699.8,875.1 699.4,880.5 699.8,883 C700.2,885.5 700.9,887.3 701.6,889.5 C702.3,891.7 703,892.5 704,896.2 C705,899.9 706.2,904.2 707.9,911.5 C709.6,918.8 712.4,929.4 714.2,939.9 C716,950.4 717.3,962.4 718.9,974.5 C720.5,986.6 722,997.6 723.6,1012.3 C725.2,1027 726.8,1044.8 728.4,1062.7 C730,1080.6 731.5,1100 733.1,1119.4 C734.7,1138.8 736.2,1158.8 737.8,1179.3 C739.4,1199.8 741,1222.3 742.5,1242.3 C744,1262.2 745.4,1285.3 746.6,1299 C747.8,1312.7 748.8,1324.2 749.8,1324.2 C750.8,1324.2 751.8,1312.7 752.9,1299 C754,1285.3 755.3,1262.2 756.7,1242.3 C758.1,1222.3 759.8,1199.8 761.4,1179.3 C763,1158.8 764.6,1138.8 766.2,1119.4 C767.8,1100 769.3,1080.6 770.9,1062.7 C772.5,1044.8 774,1026 775.6,1012.3 C777.2,998.6 778.7,989.7 780.3,980.8 C781.9,971.9 783.5,966.1 785.1,958.8 C786.7,951.4 788.2,943.5 789.8,936.7 C791.4,929.9 792.8,923.6 794.5,917.8 C796.2,912 799,905 799.9,902.1 C800.8,899.2 800,900.8 800,900.5 L800,897.4 L801,898.7 L802,887.5 L803.2,887.2 L804.5,877.3 L805.7,875.7 L806.7,867.9 L808.3,871.2 L809.4,863.9 L811,868.2 L812.2,859.6 L813.2,865.2 L814.3,858.5 L815.3,861.6 L816.9,854.6 L818.2,861.8 L819.4,848.7 L820.4,855.8 L821.5,844.1 L822.7,851.9 L824.1,839.6 L825.2,849.1 L826.7,839.3 L828,847.3 L829.6,837.4 L830.8,847.8 L831.8,836.8 L833.3,843.2 L834.5,832 L836,845.3 L837.3,820.3 L838.5,844.7 L839.9,823.5 L841.1,845.3 L842.8,818.9 L844.2,829.7 L845.7,814.5 L847.3,843.9 L848.5,820.6 L849.8,852 L851.2,824.2 L852.2,836.4 L853.7,823 L854.8,834.7 L856.4,823.9 L857.6,840.3 L859.2,818.4 L860.7,848.8 L862.1,820.6 L863.7,840.8 L864.7,818.8 L865.8,830.7 L867.1,813.1 L868.2,825.7 L869.4,812.7 L870.6,786.3 L872.2,812.3 L873.6,836 L874.6,811.1 L876.1,840.7 L877.6,815.6 L878.8,834.6 L880.2,817.2 L881,843 L882.3,776.4" fill="none" stroke="#E0422A" stroke-width="3.9" stroke-linejoin="round" stroke-linecap="round"/>
<path clip-path="url(#cd)" d="M1040.2,850.7 C1040.7,852.1 1042.5,852.5 1043.4,859.2 C1044.3,865.9 1044.9,890 1045.6,891 C1046.3,892 1046.8,872.6 1047.7,865.5 C1048.6,858.4 1049.3,852.7 1050.9,848.6 C1052.5,844.5 1054.4,843.4 1057.2,841.1 C1060,838.8 1064.6,836.8 1067.8,834.8 C1071,832.8 1074,831.2 1076.3,829.4 C1078.6,827.6 1079.5,825.5 1081.6,824.1 C1083.7,822.7 1086.4,822.4 1089.1,821 C1091.8,819.6 1095.5,815.6 1097.6,815.6 C1099.7,815.6 1100.8,816.2 1101.8,821 C1102.8,825.8 1103.2,833.3 1103.9,844.3 C1104.6,855.3 1105.4,873.2 1106.1,886.8 C1106.8,900.4 1107.5,926 1108.2,926 C1108.9,926 1109.4,901.5 1110.3,886.8 C1111.2,872.1 1112.1,850.3 1113.5,837.9 C1114.9,825.5 1116.5,818.9 1118.8,812.5 C1121.1,806.1 1124.1,803.1 1127.3,799.7 C1130.5,796.3 1134.4,794.1 1137.9,792.3 C1141.4,790.5 1145,790.2 1148.5,789.1 C1152,788 1155.9,786.5 1159.1,785.9 C1162.3,785.3 1164.8,784.8 1167.6,785.3 C1170.4,785.8 1173.3,787 1176.1,789.1 C1178.9,791.2 1181.8,793.7 1184.6,797.6 C1187.4,801.5 1190.3,806.5 1193.1,812.5 C1195.9,818.5 1199.1,825.9 1201.6,833.7 C1204.1,841.5 1206.2,850.7 1208,859.2 C1209.8,867.7 1211.2,875.4 1212.2,884.6 C1213.2,893.8 1213.6,905.7 1214.3,914.4 C1215,923.1 1215.7,936.7 1216.5,936.7 C1217.3,936.7 1218,920.6 1219,914.4 C1220,908.2 1221.3,902.4 1222.8,899.5 C1224.3,896.6 1226.5,897 1228.1,897 C1229.7,897 1230.8,895.9 1232.4,899.5 C1234,903.1 1235.8,911.9 1237.7,918.6 C1239.7,925.3 1242.3,933 1244.1,939.9 C1245.8,946.8 1246.8,952.8 1248.2,960 C1249.7,967.2 1251.1,975.9 1252.8,983.3 C1254.5,990.7 1256.5,998.2 1258.6,1004.2 C1260.7,1010.2 1262.9,1016.1 1265.6,1019.4 C1268.3,1022.7 1272.2,1023.8 1274.9,1024 C1277.6,1024.2 1279.8,1024.6 1281.9,1020.5 C1284,1016.4 1286,1000.8 1287.7,999.6 C1289.5,998.5 1291,1006.6 1292.4,1013.6 C1293.8,1020.6 1294.6,1033.3 1295.9,1041.5 C1297.2,1049.7 1298.6,1055.5 1300.5,1062.5 C1302.4,1069.5 1304.8,1079 1307.5,1083.4 C1310.2,1087.9 1313.4,1088.4 1316.9,1089.2 C1320.4,1090 1325.4,1087.1 1328.5,1088.1 C1331.6,1089.1 1333.2,1092.8 1335.5,1095.1 C1337.8,1097.4 1339.8,1100.5 1342.5,1102.1 C1345.2,1103.6 1349.1,1101.3 1351.8,1104.4 C1354.5,1107.5 1356.5,1113.7 1358.8,1120.7 C1361.1,1127.7 1363.5,1137 1365.8,1146.3 C1368.1,1155.6 1370.4,1166.5 1372.7,1176.6 C1375,1186.7 1377,1198 1379.7,1206.9 C1382.4,1215.8 1385.9,1227.4 1389,1230.1 C1392.1,1232.8 1395.5,1226.1 1398.4,1223.2 C1401.3,1220.3 1404.2,1211.9 1406.5,1212.7 C1408.8,1213.5 1410.2,1219.8 1412.3,1227.8 C1414.4,1235.8 1417,1251.5 1419.3,1260.4 C1421.6,1269.3 1424,1279.1 1426.3,1281.4 C1428.6,1283.7 1430.6,1281.4 1433.3,1274.4 C1436,1267.4 1439.8,1248.9 1442.6,1239.5 C1445.4,1230.1 1447.5,1226 1450,1218.1 C1452.5,1210.2 1455.2,1200.2 1457.9,1192.3 C1460.6,1184.3 1463.2,1177 1465.9,1170.4 C1468.6,1163.8 1471.2,1157.2 1473.8,1152.6 C1476.4,1148 1479.1,1145.4 1481.8,1142.6 C1484.5,1139.8 1487.4,1138.7 1489.7,1135.7 C1492,1132.7 1493.7,1129.2 1495.7,1124.7 C1497.7,1120.2 1499.4,1114.2 1501.6,1108.9 C1503.8,1103.6 1506.8,1093 1508.6,1093 C1510.4,1093 1511.1,1101.6 1512.6,1108.9 C1514.1,1116.2 1515.7,1133.1 1517.5,1136.7 C1519.3,1140.3 1521.5,1133.7 1523.5,1130.7 C1525.5,1127.7 1527.2,1124.1 1529.5,1118.8 C1531.8,1113.5 1535.1,1104.5 1537.4,1098.9 C1539.7,1093.3 1541.4,1089 1543.4,1085 C1545.4,1081 1547.5,1074.8 1549.3,1075.1 C1551.1,1075.4 1552.8,1083 1554.3,1087 C1555.8,1091 1556.8,1099.2 1558.3,1098.9 C1559.8,1098.6 1561.4,1089 1563.2,1085 C1565,1081 1566.9,1075.4 1569.2,1075.1 C1571.5,1074.8 1575.1,1079 1577.1,1083 C1579.1,1087 1579.9,1091.3 1581.1,1098.9 C1582.3,1106.5 1583.1,1117.1 1584.1,1128.7 C1585.1,1140.3 1586.1,1157.1 1587.1,1168.4 C1588.1,1179.7 1589,1190.7 1590,1196.3 C1591,1201.9 1591.8,1203.5 1593,1202.2 C1594.2,1200.9 1595.5,1194.8 1597,1188.3 C1598.5,1181.8 1600.3,1166.2 1602,1163.5 C1603.7,1160.8 1605.4,1173.2 1606.9,1172.4 C1608.4,1171.6 1609.6,1165.8 1610.9,1158.5 C1612.2,1151.2 1613.5,1137.2 1614.9,1128.7 C1616.4,1120.2 1617.2,1115.3 1619.6,1107.8 C1622,1100.3 1626,1091.4 1629.2,1083.8 C1632.4,1076.2 1635.8,1068.7 1638.8,1062.3 C1641.8,1055.9 1645,1049.9 1647.2,1045.5 C1649.4,1041.1 1650.7,1035.3 1652,1035.9 C1653.3,1036.5 1654.1,1050.3 1655.1,1049.1 C1656.1,1047.9 1656.7,1034.5 1658,1028.7 C1659.3,1022.9 1660.7,1019.9 1662.7,1014.3 C1664.7,1008.7 1667.1,1001.5 1669.9,995.1 C1672.7,988.7 1676.7,980.8 1679.5,976 C1682.3,971.2 1684.5,968.6 1686.7,966.4 C1688.9,964.2 1690.5,962.2 1692.7,962.8 C1694.9,963.4 1697.7,966.2 1699.9,970 C1702.1,973.8 1703.9,980.2 1705.9,985.6 C1707.9,991 1710.3,993.9 1711.9,1002.3 C1713.5,1010.7 1714.5,1024.3 1715.5,1035.9 C1716.5,1047.5 1717.1,1059.9 1717.9,1071.9 C1718.7,1083.9 1719.3,1095.4 1720.3,1107.8 C1721.3,1120.2 1722.5,1135.4 1723.9,1146.2 C1725.3,1157 1727.1,1165.8 1728.7,1172.6 C1730.3,1179.4 1731.9,1186.9 1733.5,1186.9 C1735.1,1186.9 1736.7,1179.4 1738.3,1172.6 C1739.9,1165.8 1741.3,1153.8 1743.1,1146.2 C1744.9,1138.6 1747.1,1132.6 1749.1,1127 C1751.1,1121.4 1753.2,1116.6 1755,1112.6 C1756.8,1108.6 1758,1106.2 1759.8,1103 C1761.6,1099.8 1764.4,1091.8 1765.8,1093.4 C1767.2,1095 1767.3,1103.4 1768.2,1112.6 C1769.1,1121.8 1770.1,1139 1771.1,1148.6 C1772.1,1158.2 1773.1,1171 1774.2,1170.2 C1775.3,1169.4 1776.7,1146.2 1777.8,1143.8 C1778.9,1141.4 1779.7,1147.8 1780.7,1155.8 C1781.7,1163.8 1782.9,1177.7 1783.8,1191.7 C1784.7,1205.7 1785.4,1226.5 1786.2,1239.7 C1787,1252.9 1787.6,1268.9 1788.6,1270.9 C1789.6,1272.9 1791.2,1260.1 1792.2,1251.7 C1793.2,1243.3 1793.8,1232.5 1794.6,1220.5 C1795.4,1208.5 1796.6,1186.5 1797,1179.7" fill="none" stroke="#EB8290" stroke-width="4.2" stroke-linejoin="round" stroke-linecap="round"/>
<line x1="394" y1="36" x2="394" y2="151.5" stroke="#000" stroke-width="3.7" stroke-dasharray="10 8.2" stroke-dashoffset="3.3"/>
<line x1="418.2" y1="36" x2="418.2" y2="167.4" stroke="#000" stroke-width="3.7" stroke-dasharray="10 8.2" stroke-dashoffset="4.1"/>
<line x1="1283" y1="36" x2="1283" y2="361.5" stroke="#000" stroke-width="3.7" stroke-dasharray="10 8.2" stroke-dashoffset="8.1"/>
<line x1="1311" y1="36" x2="1311" y2="464" stroke="#000" stroke-width="3.7" stroke-dasharray="10 8.2" stroke-dashoffset="18"/>
<line x1="375.1" y1="762" x2="375.1" y2="976.5" stroke="#000" stroke-width="3.7" stroke-dasharray="10 8.2" stroke-dashoffset="12"/>
<line x1="402" y1="762" x2="402" y2="991.5" stroke="#000" stroke-width="3.7" stroke-dasharray="10 8.2" stroke-dashoffset="15.1"/>
<line x1="674" y1="762" x2="674" y2="860.8" stroke="#000" stroke-width="3.7" stroke-dasharray="10 8.2" stroke-dashoffset="2.3"/>
<line x1="1273" y1="762" x2="1273" y2="1018.2" stroke="#000" stroke-width="3.7" stroke-dasharray="10 8.2" stroke-dashoffset="3.8"/>
<line x1="1314.9" y1="762" x2="1314.9" y2="1083.4" stroke="#000" stroke-width="3.7" stroke-dasharray="10 8.2" stroke-dashoffset="12"/>
<line x1="1593" y1="762" x2="1593" y2="1192.3" stroke="#000" stroke-width="3.7" stroke-dasharray="10 8.2" stroke-dashoffset="11"/>
<text transform="translate(-1.3,43.2) scale(0.9,1)" font-size="61">a</text>
<text x="906" y="43.2" font-size="61">b</text>
<text x="4.5" y="790.5" font-size="61">c</text>
<text x="908.5" y="790.5" font-size="61">d</text>
<text x="512.8" y="726.5" text-anchor="middle">Wavenumber (cm<tspan font-size="21" dy="-12">-1</tspan><tspan dy="12">)</tspan></text>
<text x="1417.8" y="726.8" text-anchor="middle">Wavenumber (cm<tspan font-size="21" dy="-12">-1</tspan><tspan dy="12">)</tspan></text>
<text x="503.9" y="1452.1" text-anchor="middle">Wavenumber (cm<tspan font-size="21" dy="-12">-1</tspan><tspan dy="12">)</tspan></text>
<text x="1419.4" y="1452.5" text-anchor="middle">Wavenumber (cm<tspan font-size="21" dy="-12">-1</tspan><tspan dy="12">)</tspan></text>
<text transform="translate(49.3,336.2) rotate(-90)" text-anchor="middle">Transmittance (%)</text>
<text transform="translate(956.2,349.9) rotate(-90)" text-anchor="middle">Transmittance (%)</text>
<text transform="translate(47.5,1075.7) rotate(-90)" text-anchor="middle">Transmittance (%)</text>
<text transform="translate(953.9,1061.7) rotate(-90)" text-anchor="middle">Transmittance (%)</text>
<text x="380.4" y="71.7" text-anchor="end">1125</text>
<text x="425.6" y="71.7">1090</text>
<text x="367.5" y="231.8"><tspan font-family="Liberation Serif" font-style="italic">ν</tspan><tspan dx="2"> P-O</tspan></text>
<text x="1266" y="66.5" text-anchor="end" font-size="29">1145</text>
<text x="1319.2" y="66.5" font-size="29">1105</text>
<text x="1244.2" y="515"><tspan font-family="Liberation Serif" font-style="italic">ν</tspan><tspan dx="2"> P-O</tspan></text>
<text x="356.2" y="791.2" text-anchor="end" font-size="29">1136</text>
<text x="405.2" y="791.2" font-size="29">1096</text>
<text x="677.1" y="791.3" font-size="29">704</text>
<text x="328.5" y="1054.5"><tspan font-family="Liberation Serif" font-style="italic">ν</tspan><tspan dx="2"> P-O</tspan></text>
<text x="604.7" y="915.5"><tspan font-family="Liberation Serif" font-style="italic">ν</tspan><tspan dx="2"> C-Cl</tspan></text>
<text x="1267.4" y="792.1" text-anchor="end" font-size="29">1156</text>
<text x="1320.7" y="792.1" font-size="29">1100</text>
<text x="1599.1" y="792.6" font-size="29">699</text>
<text x="1229.8" y="1139.7"><tspan font-family="Liberation Serif" font-style="italic">ν</tspan><tspan dx="2"> P-O</tspan></text>
<text x="1564.1" y="1249.5"><tspan font-family="Liberation Serif" font-style="italic">ν</tspan><tspan dx="2"> C-Cl</tspan></text>
<line x1="191.4" y1="563.8" x2="265" y2="563.8" stroke="#F0B935" stroke-width="4" stroke-linecap="round"/>
<text x="272.5" y="573.5">with MP</text>
<line x1="1105.6" y1="563.5" x2="1176.4" y2="563.5" stroke="#F1E1A1" stroke-width="4" stroke-linecap="round"/>
<text x="1186.5" y="573.7">MP powder</text>
<line x1="182.8" y1="1270" x2="255.9" y2="1270" stroke="#E0422A" stroke-width="4" stroke-linecap="round"/>
<text x="263.5" y="1280.9">with CMP</text>
<line x1="1106.2" y1="1288" x2="1178.2" y2="1288" stroke="#EB8290" stroke-width="4" stroke-linecap="round"/>
<text x="1186" y="1298.7">CMP powder</text>
</svg>
</body></html>
